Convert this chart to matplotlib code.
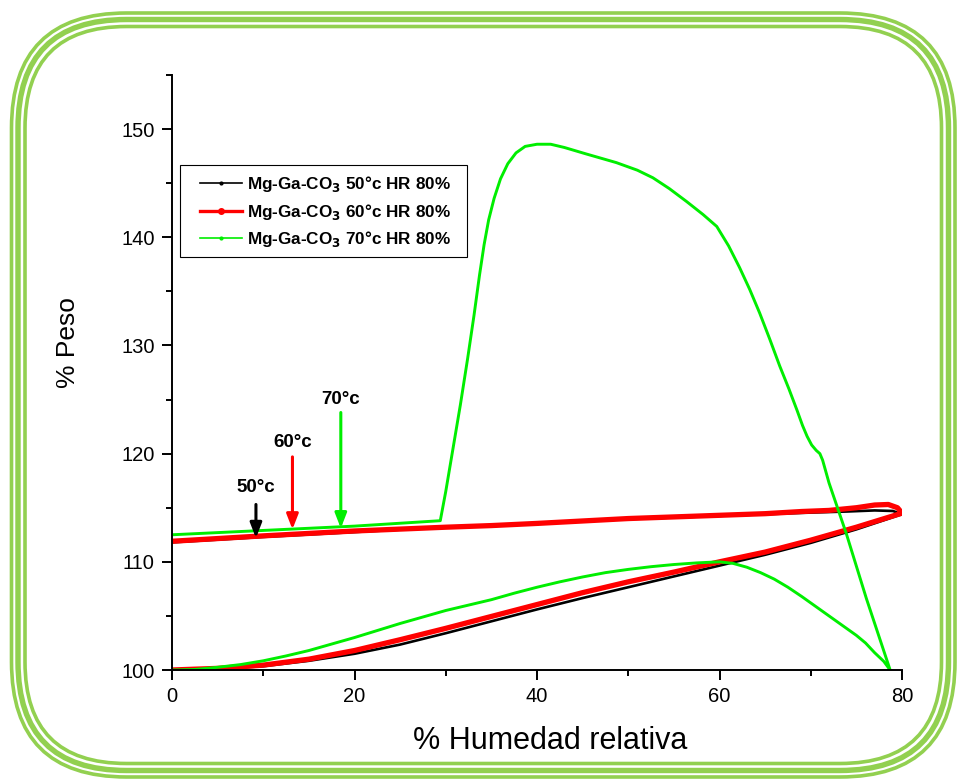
import matplotlib
matplotlib.use('Agg')
import matplotlib.pyplot as plt
from matplotlib.patches import FancyBboxPatch, Rectangle
from matplotlib.lines import Line2D
from matplotlib.ticker import MultipleLocator

plt.rcParams['font.family'] = ['Liberation Sans', 'DejaVu Sans']

# Mg-Ga-CO3 a 50 °C: adsorción (0 -> 80 %) y desorción (80 -> 0 %)
hr_50 = [0, 5, 10, 15, 20, 25, 30, 35, 40, 45, 50, 55, 60, 65, 70, 75, 80,
         79, 77, 74, 70, 65, 60, 50, 40, 30, 20, 10, 0]
peso_50 = [100.0, 100.1, 100.35, 100.85, 101.5, 102.35, 103.4, 104.5, 105.6, 106.65, 107.65, 108.65, 109.65,
           110.65, 111.75, 113.0, 114.4,
           114.7, 114.75, 114.65, 114.55, 114.4, 114.25, 113.95, 113.55, 113.2, 112.75, 112.3, 111.8]

# Mg-Ga-CO3 a 60 °C
hr_60 = [0, 5, 10, 15, 20, 25, 30, 35, 40, 45, 50, 55, 60, 65, 70, 75, 80,
         79.5, 78.5, 77, 75, 72, 69, 65, 60, 50, 40, 35, 30, 20, 10, 0]
peso_60 = [100.0, 100.15, 100.45, 101.0, 101.8, 102.8, 103.85, 104.95, 106.05, 107.15, 108.15, 109.05, 110.0,
           110.9, 112.0, 113.2, 114.5,
           115.0, 115.3, 115.25, 115.0, 114.75, 114.65, 114.45, 114.3, 114.0, 113.55, 113.35, 113.2,
           112.85, 112.4, 111.9]

# Mg-Ga-CO3 a 70 °C
hr_70 = [0, 2.5, 5, 7.5, 10, 12.5, 15, 17.5, 20, 22.5, 25, 27.5, 30, 32.5, 35, 37.5, 40, 42.5, 45,
         47.5, 50, 52.5, 55, 57.5, 60, 61.5, 63, 64.5, 66, 67.5, 69, 70.5, 72, 73.5, 75, 76, 77, 78, 78.7,
         76.1, 73.9, 72.0, 71.3, 71.0, 70.6, 70.1, 69.6, 69.1, 68.5, 67.6, 66.6, 65.5, 64.4, 63.3, 62.2,
         61.0, 59.7, 58.2, 56.4, 54.5, 52.7, 51.0, 48.7, 45.4, 43.0, 41.5, 40.0, 38.7, 37.7, 36.8, 36.0,
         35.3, 34.7, 34.2, 33.7, 33.1, 32.4, 31.6, 30.8, 30.0, 29.4, 20, 10, 0]
peso_70 = [100.0, 100.05, 100.25, 100.5, 100.85, 101.3, 101.8, 102.4, 103.0, 103.65, 104.3, 104.9, 105.5,
           106.0, 106.5, 107.1, 107.65, 108.15, 108.6, 109.0, 109.3, 109.55, 109.75, 109.9, 110.0, 109.85,
           109.5, 109.0, 108.4, 107.65, 106.8, 105.9, 105.0, 104.1, 103.2, 102.5, 101.6, 100.8, 100.0,
           106.6, 112.6, 117.3, 119.4, 120.0, 120.3, 120.8, 121.6, 122.6, 124.0, 126.0, 128.1, 130.6, 133.0,
           135.2, 137.2, 139.2, 141.0, 142.1, 143.3, 144.5, 145.5, 146.2, 146.9, 147.7, 148.3, 148.6, 148.6,
           148.4, 147.8, 146.8, 145.4, 143.6, 141.6, 139.3, 136.5, 132.8, 128.8, 124.5, 120.5, 116.5,
           113.8, 113.3, 112.9, 112.5]

series = [
    ('Mg-Ga-CO$_\\mathbf{3}$ 50°c HR 80%', hr_50, peso_50, 'black', 1.9, 2),
    ('Mg-Ga-CO$_\\mathbf{3}$ 60°c HR 80%', hr_60, peso_60, '#ff0000', 3.8, 4),
    ('Mg-Ga-CO$_\\mathbf{3}$ 70°c HR 80%', hr_70, peso_70, '#00ee00', 2.1, 2),
]

# flechas que marcan cada isoterma: (etiqueta, x, y inicio, y punta, y texto, color)
flechas = [
    ('50°c', 9.2, 115.3, 112.2, 116.9, 'black'),
    ('60°c', 13.2, 119.7, 113.0, 121.0, '#ff0000'),
    ('70°c', 18.5, 123.8, 113.1, 125.0, '#00ee00'),
]

fig = plt.figure(figsize=(9.58, 7.8), dpi=100)

# marco verde redondeado alrededor de la figura (coordenadas en píxeles)
marco = fig.add_axes([0, 0, 1, 1], zorder=-1)
marco.set_xlim(0, 958)
marco.set_ylim(780, 0)
marco.axis('off')
for inset, lw in [(0, 2.6), (6.5, 3.9), (13.5, 2.6)]:
    marco.add_patch(FancyBboxPatch((11.5 + inset, 13 + inset),
                                   955 - 11.5 - 2 * inset, 777 - 13 - 2 * inset,
                                   boxstyle='round,pad=0,rounding_size=%f' % (115 - inset),
                                   fill=False, edgecolor='#92D050', linewidth=lw))
# recuadro de la leyenda
marco.add_patch(Rectangle((180, 165), 287, 92, fill=False, edgecolor='black', linewidth=0.8))

ax = fig.add_axes([172 / 958, 110 / 780, 730 / 958, 595 / 780])
ax.patch.set_alpha(0)

handles = []
for label, x, y, color, lw, ms in series:
    ax.plot(x, y, color=color, linewidth=lw, solid_joinstyle='round')
    handles.append(Line2D([], [], color=color, linewidth=2.4 if color == '#ff0000' else 1.2,
                          marker='o', markersize=ms, label=label))

for texto, x, y0, y1, yt, color in flechas:
    ax.annotate('', xy=(x, y1), xytext=(x, y0),
                arrowprops=dict(arrowstyle='-|>,head_width=0.35,head_length=0.9', color=color,
                                lw=2.2, shrinkA=0, shrinkB=0))
    ax.text(x, yt, texto, ha='center', va='center', fontsize=13.5, fontweight='bold')

ax.set_xlim(0, 80)
ax.set_ylim(100, 155)
ax.xaxis.set_major_locator(MultipleLocator(20))
ax.xaxis.set_minor_locator(MultipleLocator(10))
ax.yaxis.set_major_locator(MultipleLocator(10))
ax.yaxis.set_minor_locator(MultipleLocator(5))
ax.spines['top'].set_visible(False)
ax.spines['right'].set_visible(False)
for s in ['left', 'bottom']:
    ax.spines[s].set_linewidth(1.4)
ax.tick_params(which='major', direction='out', length=7.5, width=1.4, labelsize=14.5, pad=5)
ax.tick_params(which='minor', direction='out', length=4, width=1.4)

ax.set_xlabel('% Humedad relativa', fontsize=22)
ax.set_ylabel('% Peso', fontsize=19)
ax.xaxis.set_label_coords(0.518, -0.094)
ax.yaxis.set_label_coords(-0.126, 0.55)

ax.legend(handles=handles, loc='upper left', bbox_to_anchor=(28 / 730, (670 - 174) / 595),
          prop={'weight': 'bold', 'size': 12.3}, frameon=False, handlelength=2.45,
          handletextpad=0.3, borderpad=0, labelspacing=0.44, borderaxespad=0)

fig.savefig('out.png', dpi=100)
